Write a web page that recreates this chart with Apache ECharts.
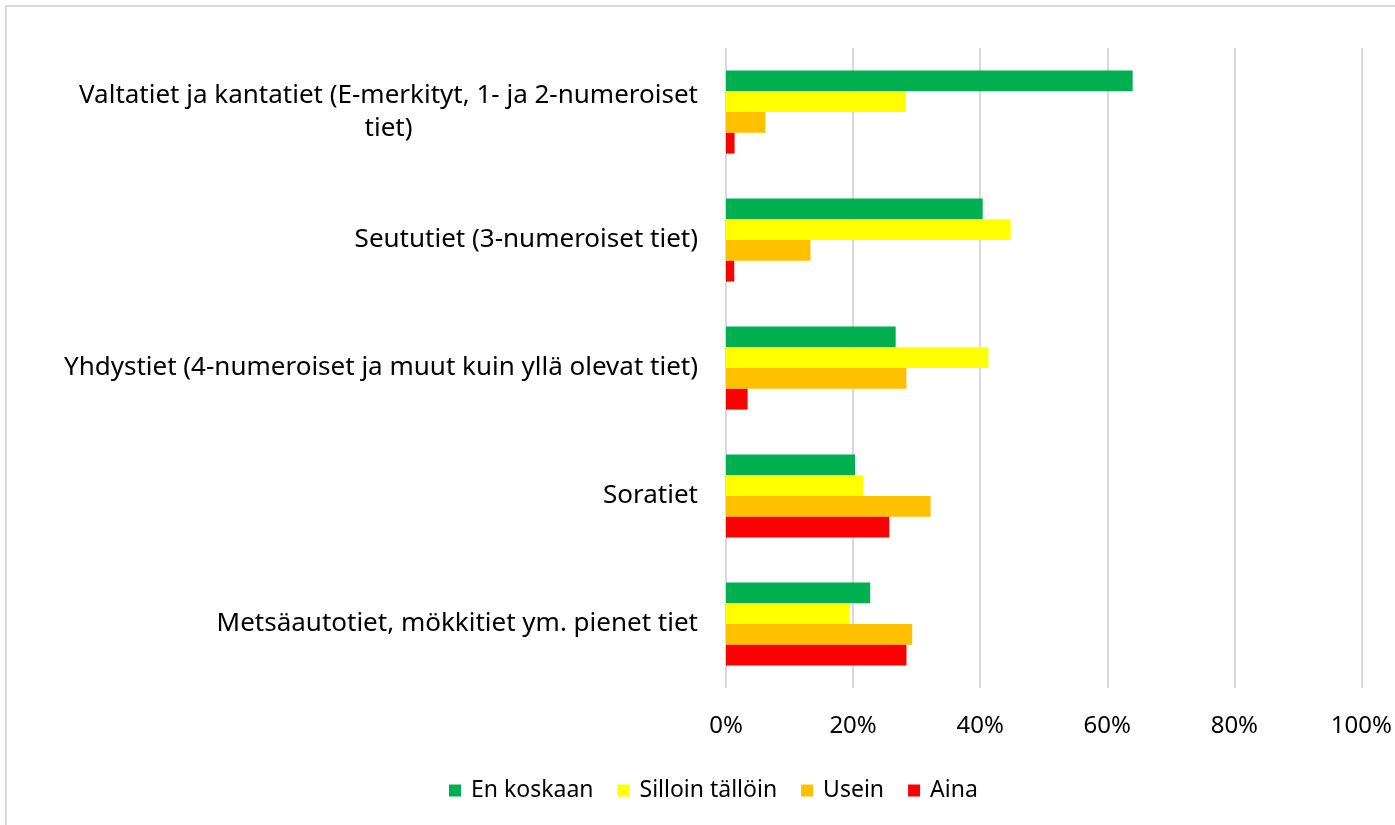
<!DOCTYPE html>
<html lang="fi">
<head>
    <meta charset="UTF-8">
    <title>Tietyypit</title>
    <script src="https://cdn.jsdelivr.net/npm/echarts@6/dist/echarts.min.js"></script>
    <style type="text/css">
        html, body { margin: 0; padding: 0; background: #fff; overflow: hidden; }
        .frame {
            position: absolute; left: 5px; top: 5px;
            width: 1420px; height: 860px;
            border: 2px solid #d9d9d9;
        }
    </style>
</head>
<body>
<div class="frame"></div>
<div id="main" style="position:absolute;left:0;top:0;width:1395px;height:825px;"></div>
<script type="text/javascript">
    // tieluokat
    var categories = [
        'Valtatiet ja kantatiet (E-merkityt, 1- ja 2-numeroiset\ntiet)',
        'Seututiet (3-numeroiset tiet)',
        'Yhdystiet (4-numeroiset ja muut kuin yllä olevat tiet)',
        'Soratiet',
        'Metsäautotiet, mökkitiet ym. pienet tiet'
    ];
    var seriesNames = ['En koskaan', 'Silloin tällöin', 'Usein', 'Aina'];
    var colors = ['#00B050', '#FFFF00', '#FFC000', '#FF0000'];
    // prosentit
    var enKoskaan = [64.0, 40.4, 26.7, 20.3, 22.7];
    var silloinTalloin = [28.3, 44.8, 41.3, 21.6, 19.5];
    var usein = [6.2, 13.3, 28.4, 32.2, 29.3];
    var aina = [1.35, 1.3, 3.4, 25.7, 28.4];
    var values = [enKoskaan, silloinTalloin, usein, aina];

    var myChart = echarts.init(document.getElementById('main'));
    var font = 'Noto Sans';

    var series = seriesNames.map(function (name, i) {
        return {
            name: name,
            type: 'bar',
            data: values[i],
            barGap: '0%',
            barCategoryGap: '35%',
            itemStyle: { color: colors[i] }
        };
    });

    var option = {
        animation: false,
        textStyle: { fontFamily: font },
        grid: { left: 726, right: 32, top: 48, bottom: 137 },
        legend: {
            data: seriesNames,
            bottom: 18,
            left: 444,
            icon: 'rect',
            itemWidth: 12,
            itemHeight: 12,
            itemGap: 24,
            textStyle: { fontFamily: font, fontSize: 23, color: '#000', padding: [0, 0, 0, 5] }
        },
        xAxis: {
            type: 'value',
            min: 0,
            max: 100,
            interval: 20,
            axisLine: { show: false },
            axisTick: { show: false },
            splitLine: { lineStyle: { color: '#d9d9d9', width: 2 } },
            axisLabel: {
                formatter: '{value}%',
                margin: 26,
                fontSize: 24,
                color: '#000',
                fontFamily: font
            }
        },
        yAxis: {
            type: 'category',
            data: categories,
            inverse: true,
            axisLine: { show: false },
            axisTick: { show: false },
            axisLabel: {
                margin: 28,
                color: '#000',
                formatter: function (v) {
                    return v.split('\n').map(function (s) { return '{c|' + s + '}'; }).join('\n');
                },
                rich: {
                    c: { align: 'center', fontSize: 26, lineHeight: 33, color: '#000', fontFamily: font }
                }
            }
        },
        series: series
    };

    myChart.setOption(option);
</script>
</body>
</html>
